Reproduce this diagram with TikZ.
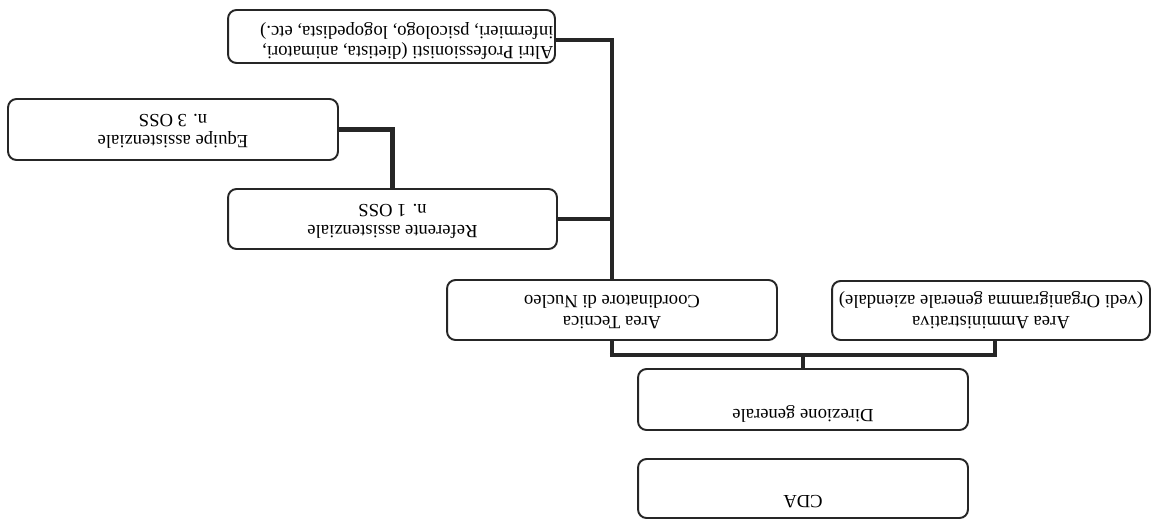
\documentclass[tikz,border=0pt]{standalone}
\usepackage{fontspec}
\setmainfont{Liberation Serif}
\newcommand{\flipc}[1]{\rotatebox{180}{\begin{tabular}{@{}c@{}}#1\end{tabular}}}
\begin{document}
\begin{tikzpicture}[x=0.02cm,y=-0.02cm,
  box/.style={draw=black!85,line width=1.1pt,rounded corners=0.17cm,inner sep=0pt,fill=white},
  link/.style={draw=black!85,line width=2.3pt},
  txt/.style={inner sep=0pt,font=\fontsize{10.6}{11.8}\selectfont}]
\useasboundingbox (0,0) rectangle (1155,520);
\fill[white] (0,0) rectangle (1155,520);
\coordinate (bar) at (0,355);
\node[box,minimum width=6.6cm,minimum height=1.18cm] (cda) at (803,488.5) {};
\node[box,minimum width=6.6cm,minimum height=1.22cm] (dir) at (803,399.5) {};
\node[box,minimum width=6.6cm,minimum height=1.2cm,txt] (tec) at (612,310)
  {\flipc{Area Tecnica\\Coordinatore di Nucleo}};
\node[box,minimum width=6.36cm,minimum height=1.18cm,txt] (amm) at (991,310.5)
  {\flipc{Area Amministrativa\\(vedi Organigramma generale aziendale)}};
\node[box,minimum width=6.58cm,minimum height=1.2cm,txt] (ref) at (392.5,219)
  {\flipc{Referente assistenziale\\n. 1 OSS}};
\node[box,minimum width=6.6cm,minimum height=1.22cm,txt] (equ) at (173,129.5)
  {\flipc{Equipe assistenziale\\n. 3 OSS}};
\node[box,minimum width=6.54cm,minimum height=1.06cm] (altri) at (391.5,36.5) {};
\node[txt] (altrit) at (392.5,41)
  {\rotatebox{180}{\parbox{6.44cm}{\raggedright Altri Professionisti (dietista, animatori,\\infermieri, psicologo, logopedista, etc.)}}};
\node[txt] (cdat) at (803,502) {\rotatebox{180}{CDA}};
\node[txt] (dirt) at (803,414) {\rotatebox{180}{Direzione generale}};
% connectors
\draw[link] (dir.north) -- (dir.north |- bar);
\draw[link] ([xshift=-1.15pt]tec.south |- bar) -- ([xshift=1.15pt,xshift=0.08cm]amm.south |- bar);
\draw[link] (tec.south) -- (tec.south |- bar);
\draw[link] ([xshift=0.08cm]amm.south) -- ([xshift=0.08cm]amm.south |- bar);
\draw[link] (tec.north) -- ([yshift=1.15pt,yshift=-0.07cm]tec.north |- altri.east);
\draw[link] ([yshift=-0.07cm]altri.east) -- ([xshift=1.15pt,yshift=-0.07cm]altri.east -| tec.north);
\draw[link] (ref.east) -- (ref.east -| tec.north);
\draw[link] (equ.east) -| (ref.north);
\end{tikzpicture}
\end{document}
